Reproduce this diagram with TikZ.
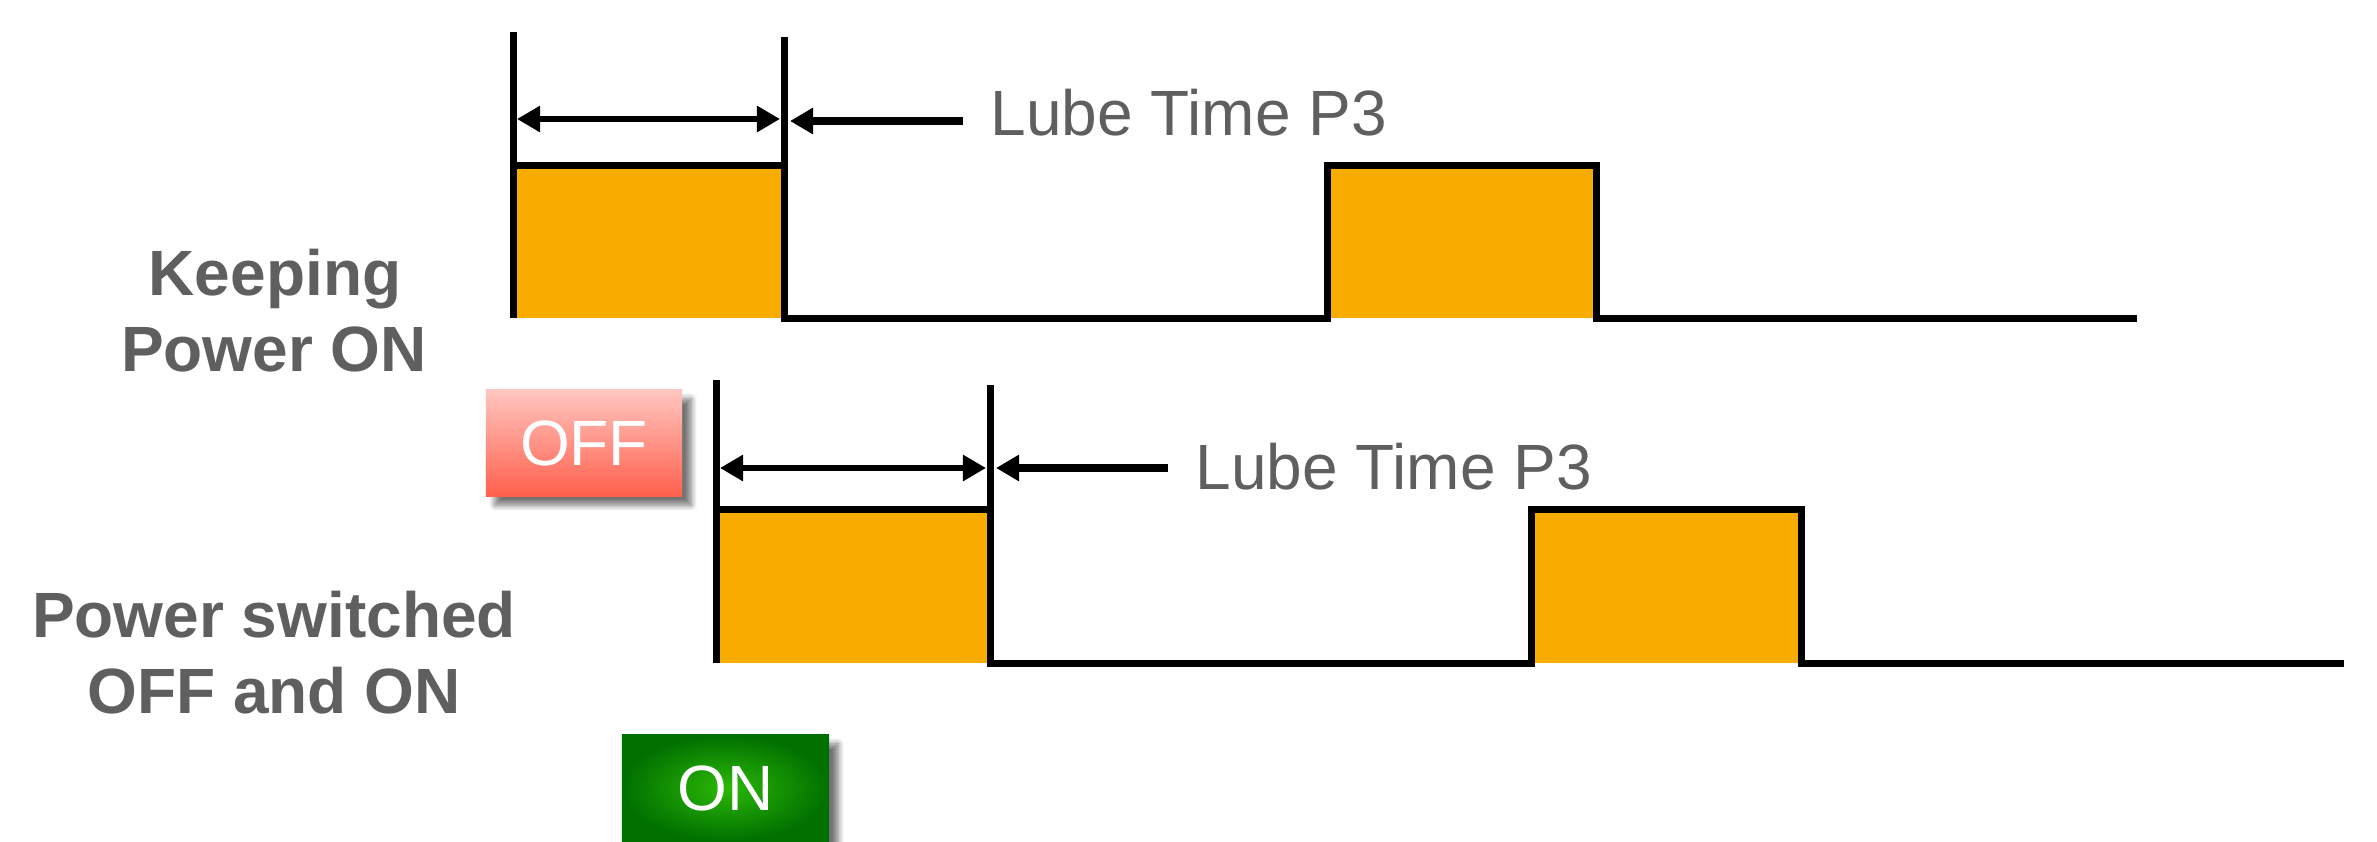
\documentclass[tikz,border=0pt]{standalone}
\usepackage{fontspec}
\setmainfont{Liberation Sans}
\usetikzlibrary{arrows.meta,shadows,shadows.blur}
\definecolor{pulse}{RGB}{249,172,0}
\definecolor{txtgray}{RGB}{95,95,95}
\definecolor{offtop}{RGB}{255,198,192}
\definecolor{offbot}{RGB}{255,96,76}
\definecolor{oninner}{RGB}{44,184,8}
\definecolor{onouter}{RGB}{0,112,0}
\tikzset{
  wave/.style={line width=0.07cm, line cap=butt, line join=miter},
  dimarrow/.style={line width=0.065cm, {Triangle[length=0.23cm,width=0.25cm]}-{Triangle[length=0.23cm,width=0.25cm]}},
  ptrarrow/.style={line width=0.075cm, -{Triangle[length=0.23cm,width=0.25cm]}},
  lubelabel/.style={text=txtgray, font=\fontsize{18.2}{21.6}\selectfont, anchor=base west, inner sep=0pt},
  rowlabel/.style={text=txtgray, font=\fontsize{18.2}{21.6}\selectfont\bfseries, anchor=base, inner sep=0pt},
  switchbtn/.style={rectangle, text=white, font=\fontsize{18.2}{21.6}\selectfont, inner sep=0pt,
    blur shadow={shadow xshift=0.09cm, shadow yshift=-0.09cm, shadow blur steps=6, shadow blur radius=0.06cm, shadow opacity=55}},
}
\begin{document}
\begin{tikzpicture}[x=0.01cm,y=-0.01cm]
\useasboundingbox (0,0) rectangle (2377,842);

% ---------- top waveform: Keeping Power ON ----------
\fill[pulse] (513,165) rectangle (784,318);
\fill[pulse] (1327,165) rectangle (1596,318);
\draw[wave] (513,32) -- (513,318);
\draw[wave] (513,165) -- (784,165);
\draw[wave] (784,37) -- (784,318) -- (1327,318) -- (1327,165) -- (1596,165) -- (1596,318) -- (2137,318);
\coordinate (t1) at (517,119);
\coordinate (t2) at (780,119);
\coordinate (t3) at (963,121);
\coordinate (t4) at (790,121);
\draw[dimarrow] (t1) -- (t2);
\draw[ptrarrow] (t3) -- (t4);
\node[lubelabel] (lubeA) at (990,135) {Lube Time P3};

% ---------- bottom waveform: Power switched OFF and ON ----------
\fill[pulse] (716,509) rectangle (990,663);
\fill[pulse] (1531,509) rectangle (1801,663);
\draw[wave] (716,380) -- (716,663);
\draw[wave] (716,509) -- (990,509);
\draw[wave] (990,385) -- (990,663) -- (1531,663) -- (1531,509) -- (1801,509) -- (1801,663) -- (2344,663);
\coordinate (b1) at (720,468);
\coordinate (b2) at (986,468);
\coordinate (b3) at (1168,468);
\coordinate (b4) at (996,468);
\draw[dimarrow] (b1) -- (b2);
\draw[ptrarrow] (b3) -- (b4);
\node[lubelabel] (lubeB) at (1195,489) {Lube Time P3};

% ---------- row labels ----------
\node[rowlabel] (keep1) at (275,295) {Keeping};
\node[rowlabel] (keep2) at (274,371) {Power ON};
\node[rowlabel] (sw1) at (274,637) {Power switched};
\node[rowlabel] (sw2) at (274,713) {OFF and ON};

% ---------- switch buttons ----------
\node[switchbtn, minimum width=1.96cm, minimum height=1.06cm,
      top color=offtop, bottom color=offbot] (off) at (584,443) {OFF};
\node[switchbtn, minimum width=2.07cm, minimum height=1.06cm,
      inner color=oninner, outer color=onouter] (on) at (725.5,788) {ON};
\end{tikzpicture}
\end{document}
